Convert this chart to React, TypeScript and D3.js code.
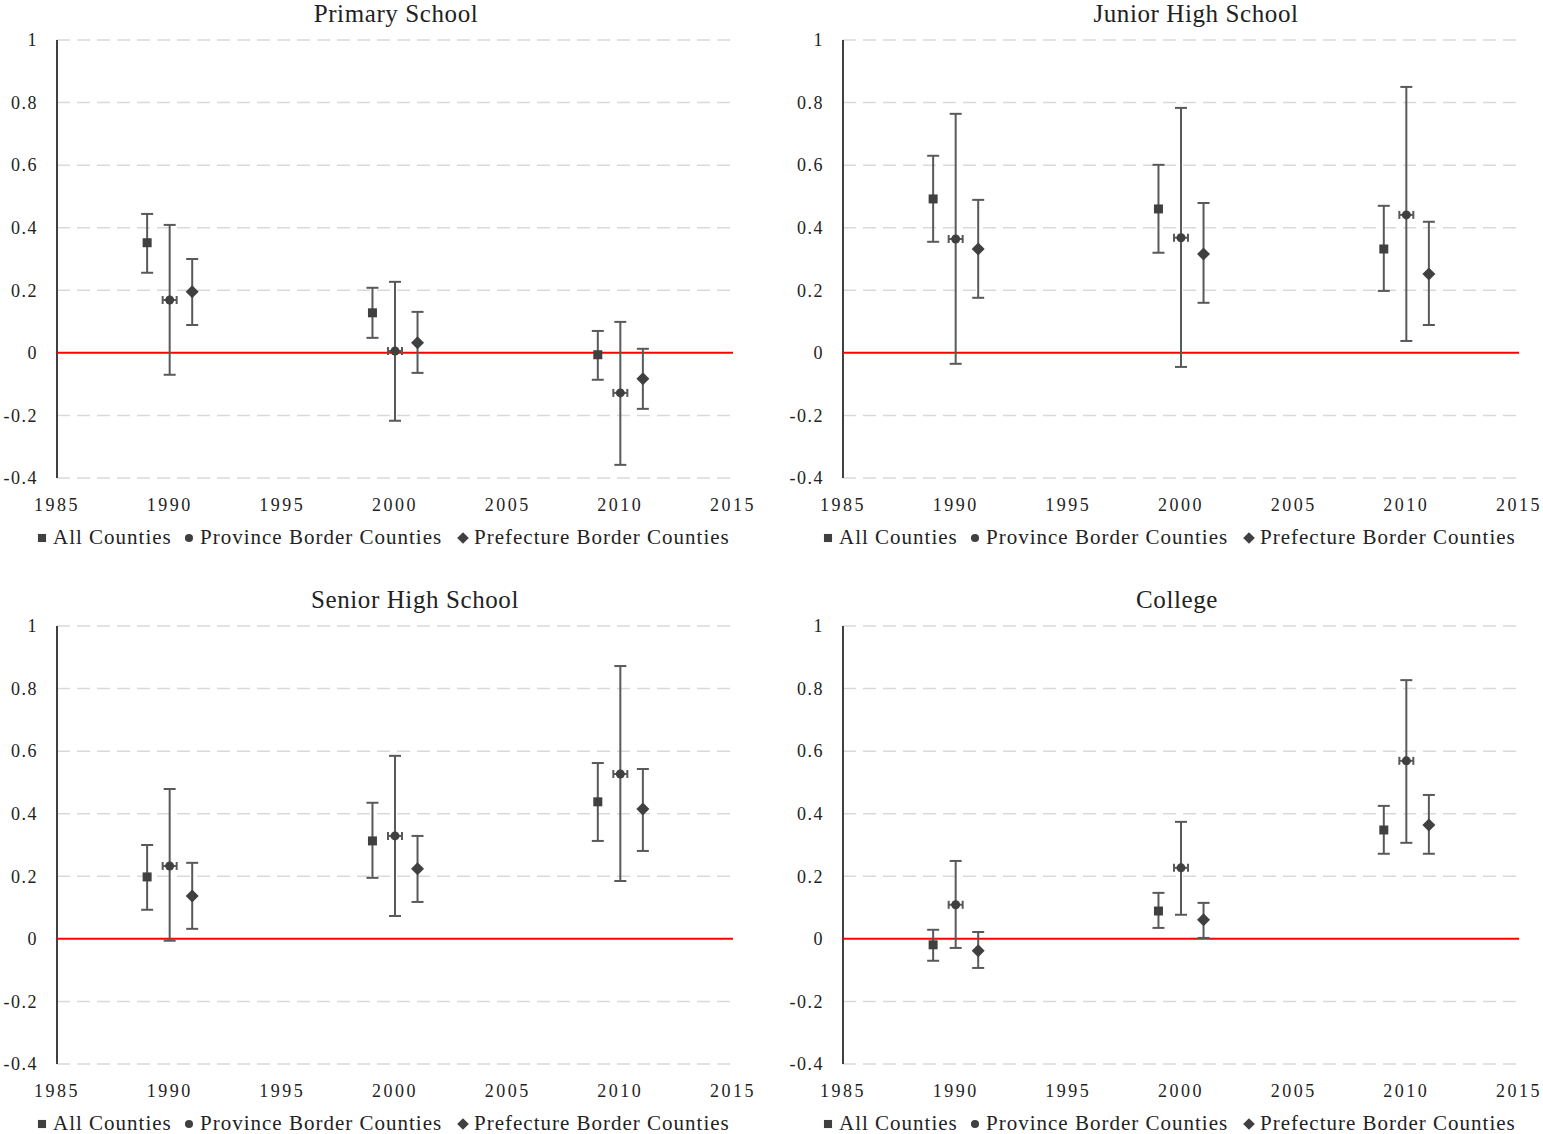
import React from 'react';
import * as d3 from 'd3';

// x positions of the three groups per decade
const allYears = [1989, 1999, 2009];
const provYears = [1990, 2000, 2010];
const prefYears = [1991, 2001, 2011];

const panelTitles = ['Primary School', 'Junior High School', 'Senior High School', 'College'];
const xTicks = [1985, 1990, 1995, 2000, 2005, 2010, 2015];
const yTicks = [-0.4, -0.2, 0, 0.2, 0.4, 0.6, 0.8, 1];
const yTickLabels = ['-0.4', '-0.2', '0', '0.2', '0.4', '0.6', '0.8', '1'];

// [estimate, upper, lower] for each panel, order 1990 / 2000 / 2010
const allCounties = [
  [[0.352, 0.444, 0.256], [0.128, 0.208, 0.048], [-0.006, 0.070, -0.086]],
  [[0.492, 0.630, 0.355], [0.460, 0.601, 0.320], [0.332, 0.470, 0.198]],
  [[0.198, 0.300, 0.093], [0.313, 0.435, 0.195], [0.438, 0.562, 0.313]],
  [[-0.019, 0.029, -0.070], [0.089, 0.147, 0.035], [0.348, 0.425, 0.272]],
];
const provinceBorder = [
  [[0.169, 0.409, -0.070], [0.006, 0.227, -0.217], [-0.128, 0.099, -0.358]],
  [[0.364, 0.764, -0.035], [0.368, 0.783, -0.045], [0.441, 0.850, 0.038]],
  [[0.233, 0.479, -0.006], [0.329, 0.585, 0.073], [0.527, 0.872, 0.185]],
  [[0.109, 0.249, -0.029], [0.227, 0.374, 0.077], [0.569, 0.827, 0.307]],
];
const prefectureBorder = [
  [[0.195, 0.300, 0.089], [0.032, 0.131, -0.064], [-0.083, 0.013, -0.179]],
  [[0.332, 0.489, 0.176], [0.316, 0.479, 0.160], [0.252, 0.419, 0.089]],
  [[0.137, 0.243, 0.032], [0.224, 0.329, 0.118], [0.415, 0.543, 0.281]],
  [[-0.038, 0.022, -0.093], [0.061, 0.115, 0.003], [0.364, 0.460, 0.272]],
];

const legendLabels = ['All Counties', 'Province Border Counties', 'Prefecture Border Counties'];

const FONT = '"Liberation Serif", "DejaVu Serif", serif';
const MARK = '#404040';
const BAR = '#595959';

const panelOrigins = [[0, 0], [786, 0], [0, 586], [786, 586]];
const titleX = [396, 410, 415, 391];

const Marker: React.FC<{ kind: number; x: number; y: number; legend?: boolean }> = ({ kind, x, y, legend }) => {
  const s = legend ? 0.9 : 1;
  if (kind === 0) {
    const h = 4.5 * s;
    return <rect x={x - h} y={y - h} width={h * 2} height={h * 2} fill={MARK} />;
  }
  if (kind === 1) {
    return <circle cx={x} cy={y} r={4.5 * s} fill={MARK} />;
  }
  const d = 6.5 * s;
  return <path d={`M${x},${y - d}L${x + d},${y}L${x},${y + d}L${x - d},${y}Z`} fill={MARK} />;
};

const Panel: React.FC<{ idx: number }> = ({ idx }) => {
  const [ox, oy] = panelOrigins[idx];
  const x = d3.scaleLinear().domain([1985, 2015]).range([57, 733]);
  const y = d3.scaleLinear().domain([-0.4, 1]).range([478, 40]);
  const series = [
    { years: allYears, data: allCounties[idx] },
    { years: provYears, data: provinceBorder[idx] },
    { years: prefYears, data: prefectureBorder[idx] },
  ];
  return (
    <g transform={`translate(${ox},${oy})`} fontFamily={FONT}>
      <text x={titleX[idx]} y={22} textAnchor="middle" fontSize={25} letterSpacing={0.6} fill="#222">{panelTitles[idx]}</text>
      {yTicks.map((t, i) => (
        <g key={t}>
          {t !== 0 && (
            <line x1={57} x2={733} y1={y(t)} y2={y(t)} stroke="#d9d9d9" strokeWidth={1.5} strokeDasharray="13,7" />
          )}
          <text x={38} y={y(t)} dy="0.35em" textAnchor="end" fontSize={18} letterSpacing={1.5} fill="#222">
            {yTickLabels[i]}
          </text>
        </g>
      ))}
      <line x1={57} x2={57} y1={40} y2={478} stroke="#404040" strokeWidth={2} />
      <line x1={57} x2={733} y1={y(0)} y2={y(0)} stroke="#ff0000" strokeWidth={2} />
      {xTicks.map(t => (
        <text key={t} x={x(t)} y={511} textAnchor="middle" fontSize={18} letterSpacing={2.5} fill="#222">{t}</text>
      ))}
      {series.map((s, k) => (
        <g key={k}>
          {s.data.map(([est, hi, lo], i) => {
            const cx = x(s.years[i]);
            return (
              <g key={i} stroke={BAR} strokeWidth={2}>
                <line x1={cx} x2={cx} y1={y(hi)} y2={y(lo)} />
                <line x1={cx - 6} x2={cx + 6} y1={y(hi)} y2={y(hi)} />
                <line x1={cx - 6} x2={cx + 6} y1={y(lo)} y2={y(lo)} />
                {k === 1 && (
                  <g>
                    <line x1={cx - 7} x2={cx + 7} y1={y(est)} y2={y(est)} />
                    <line x1={cx - 7} x2={cx - 7} y1={y(est) - 4} y2={y(est) + 4} />
                    <line x1={cx + 7} x2={cx + 7} y1={y(est) - 4} y2={y(est) + 4} />
                  </g>
                )}
                <g stroke="none">
                  <Marker kind={k} x={cx} y={y(est)} />
                </g>
              </g>
            );
          })}
        </g>
      ))}
      {legendLabels.map((l, k) => {
        const lx = [42, 189, 463][k];
        return (
          <g key={l}>
            <Marker kind={k} x={lx} y={538} legend />
            <text x={lx + 11} y={543.5} fontSize={21} letterSpacing={1} fill="#222">{l}</text>
          </g>
        );
      })}
    </g>
  );
};

const App: React.FC = () => (
  <svg width={1543} height={1134} style={{ position: 'absolute', left: 0, top: 0, background: '#fff' }}>
    {[0, 1, 2, 3].map(i => <Panel key={i} idx={i} />)}
  </svg>
);

export default App;
